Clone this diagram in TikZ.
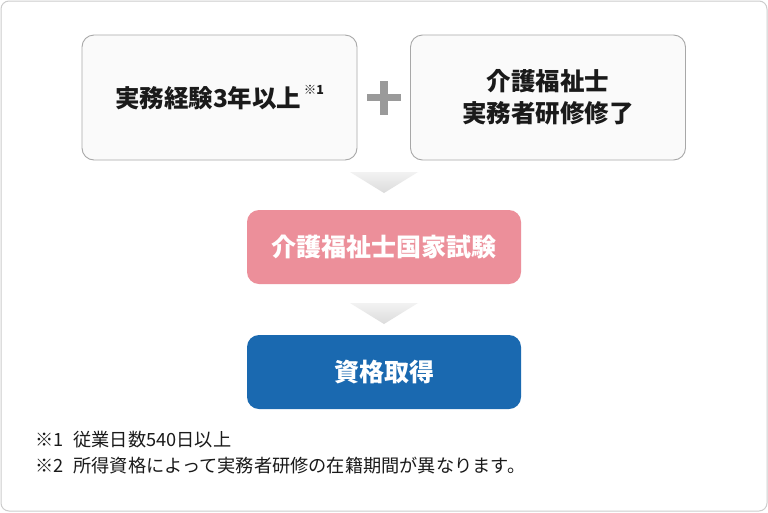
\documentclass[tikz,border=0pt]{standalone}
\usepackage{fontspec}
\setmainfont{Noto Sans CJK JP}
\newfontfamily\jp{Noto Sans CJK JP}
\usetikzlibrary{shapes.geometric}
\definecolor{frameC}{HTML}{CCCCCC}
\definecolor{boxC}{HTML}{A8A8A8}
\definecolor{boxF}{HTML}{FAFAFA}
\definecolor{pinkC}{HTML}{EC8F9A}
\definecolor{blueC}{HTML}{1A69B0}
\definecolor{plusC}{HTML}{9A9A9A}
\definecolor{txt}{HTML}{1A1A1A}
\tikzset{
  whitebox/.style={draw=boxC, line width=0.9pt, fill=boxF, rounded corners=12pt, minimum width=275pt, minimum height=125pt, align=center, text=txt, font=\jp\bfseries\fontsize{24.5}{32}\selectfont},
  colbox/.style={rounded corners=12pt, minimum width=274pt, minimum height=74pt, text=white, font=\jp\bfseries\fontsize{25}{30}\selectfont},
  note/.style={anchor=west, text=txt, font=\jp\fontsize{18.2}{20}\selectfont, inner sep=0pt},
  tri/.style={top color=gray!10, bottom color=gray!28, draw=none}
}
\begin{document}
\begin{tikzpicture}[x=1pt,y=-1pt]
\useasboundingbox (0,0) rectangle (768,512);
\draw[frameC, line width=1pt, rounded corners=8pt, fill=white] (1,1) rectangle (767,511);
\node[whitebox] (exp) at (219.5,97.5) {実務経験3年以上\hspace{0.1em}\raisebox{0.5em}{\fontsize{12.5}{12}\selectfont ※1}};
\node[whitebox] (train) at (548,97.5) {介護福祉士\\実務者研修修了};
\node[inner sep=0pt, minimum size=36pt] (plus) at (384,97.5) {};
\fill[plusC] ([xshift=-17pt,yshift=3.8pt]plus.center) rectangle ([xshift=17pt,yshift=-3.8pt]plus.center);
\fill[plusC] ([xshift=-3.8pt,yshift=17pt]plus.center) rectangle ([xshift=3.8pt,yshift=-17pt]plus.center);
\node[colbox, fill=pinkC] (exam) at (384,247) {介護福祉士国家試験};
\node[colbox, fill=blueC] (cert) at (384,372) {資格取得};
\coordinate (a1) at (384,172);
\coordinate (a2) at (384,303);
\shade[tri] ([xshift=-34pt]a1) -- ([xshift=34pt]a1) -- ([yshift=-21pt]a1) -- cycle;
\shade[tri] ([xshift=-34pt]a2) -- ([xshift=34pt]a2) -- ([yshift=-21pt]a2) -- cycle;
\node[note] (n1) at (35,440) {※1\hspace{0.55em}従業日数540日以上};
\node[note] (n2) at (35,466) {※2\hspace{0.55em}所得資格によって実務者研修の在籍期間が異なります。};
\end{tikzpicture}
\end{document}
